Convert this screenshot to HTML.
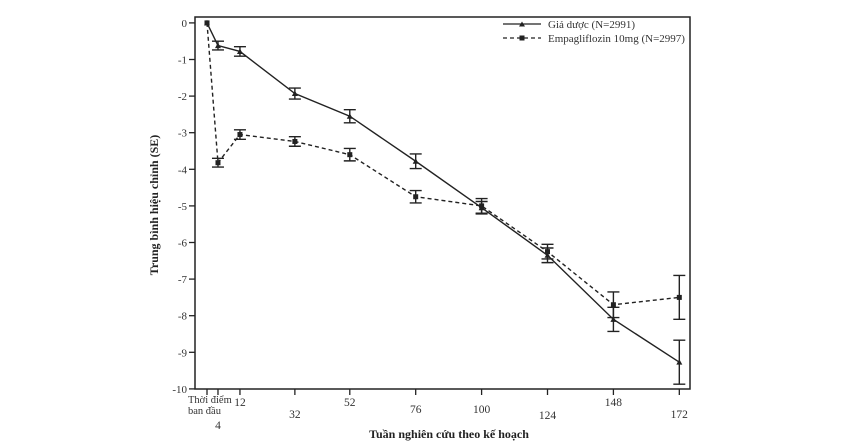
<!DOCTYPE html>
<html><head><meta charset="utf-8"><style>
html,body{margin:0;padding:0;background:#fff;width:845px;height:442px;overflow:hidden}
svg text{font-family:"Liberation Serif",serif;fill:#333}
</style></head><body>
<svg id="s" width="845" height="442" xmlns="http://www.w3.org/2000/svg">
<rect x="195" y="17" width="495" height="372" fill="none" stroke="#222" stroke-width="1.5"/>
<g id="g"></g>
<g font-size="11">
<line x1="503" y1="24" x2="541" y2="24" stroke="#222" stroke-width="1.3"/>
<path d="M522,21.5 L525,26.5 L519,26.5Z" fill="#222"/>
<text x="548" y="28">Giả dược (N=2991)</text>
<line x1="503" y1="38" x2="541" y2="38" stroke="#222" stroke-width="1.3" stroke-dasharray="4,3"/>
<rect x="519.5" y="35.5" width="5" height="5" fill="#222"/>
<text x="548" y="42">Empagliflozin 10mg (N=2997)</text>
</g>
<text transform="translate(158,205) rotate(-90)" text-anchor="middle" font-size="12" font-weight="bold" style="fill:#222">Trung bình hiệu chỉnh (SE)</text>
<text x="449" y="438" text-anchor="middle" font-size="12" font-weight="bold" style="fill:#222">Tuần nghiên cứu theo kế hoạch</text>
<g font-size="10.5">
<text x="188" y="403">Thời điểm</text>
<text x="188" y="414">ban đầu</text>
</g>
</svg>
<script>
var g=document.getElementById('g'),h='';
function X(w){return 207+w*2.746}
function Y(v){return 22.9+v*-36.6}
for(var i=0;i<=10;i++){var y=Y(-i);h+='<line x1="189" y1="'+y+'" x2="195" y2="'+y+'" stroke="#222" stroke-width="1.3"/><text x="187" y="'+(y+4)+'" text-anchor="end" font-size="11">'+(i?-i:0)+'</text>';}
var wk=[0,4,12,32,52,76,100,124,148,172];
var ly=[0,429,406,418,406,413,413,419,406,418];
wk.forEach(function(w,i){var x=X(w);h+='<line x1="'+x+'" y1="389" x2="'+x+'" y2="395" stroke="#222" stroke-width="1.3"/>';if(i>0)h+='<text x="'+x+'" y="'+ly[i]+'" text-anchor="middle" font-size="11.5">'+w+'</text>';});
var P=[0,-0.62,-0.78,-1.93,-2.55,-3.78,-5.05,-6.35,-8.1,-9.27];
var Pe=[0,0.12,0.13,0.15,0.18,0.2,0.17,0.2,0.33,0.6];
var E=[0,-3.82,-3.05,-3.24,-3.6,-4.75,-5.0,-6.25,-7.7,-7.5];
var Ee=[0,0.12,0.13,0.13,0.17,0.17,0.2,0.2,0.35,0.6];
function series(d,e,dash,tri){var pts=d.map(function(v,i){return X(wk[i])+','+Y(v)}).join(' ');
h+='<polyline points="'+pts+'" fill="none" stroke="#222" stroke-width="1.4"'+(dash?' stroke-dasharray="4,3"':'')+'/>';
d.forEach(function(v,i){var x=X(wk[i]),y=Y(v);if(e[i]>0){var a=Y(v+e[i]),b=Y(v-e[i]);h+='<path d="M'+x+','+a+'V'+b+'M'+(x-6)+','+a+'H'+(x+6)+'M'+(x-6)+','+b+'H'+(x+6)+'" stroke="#222" stroke-width="1.4" fill="none"/>';}
if(tri)h+='<path d="M'+x+','+(y-3)+'L'+(x+3)+','+(y+2.5)+'L'+(x-3)+','+(y+2.5)+'Z" fill="#222"/>';else h+='<rect x="'+(x-2.5)+'" y="'+(y-2.5)+'" width="5" height="5" fill="#222"/>';});}
series(P,Pe,false,true);series(E,Ee,true,false);
g.innerHTML=h;
</script>
</body></html>
